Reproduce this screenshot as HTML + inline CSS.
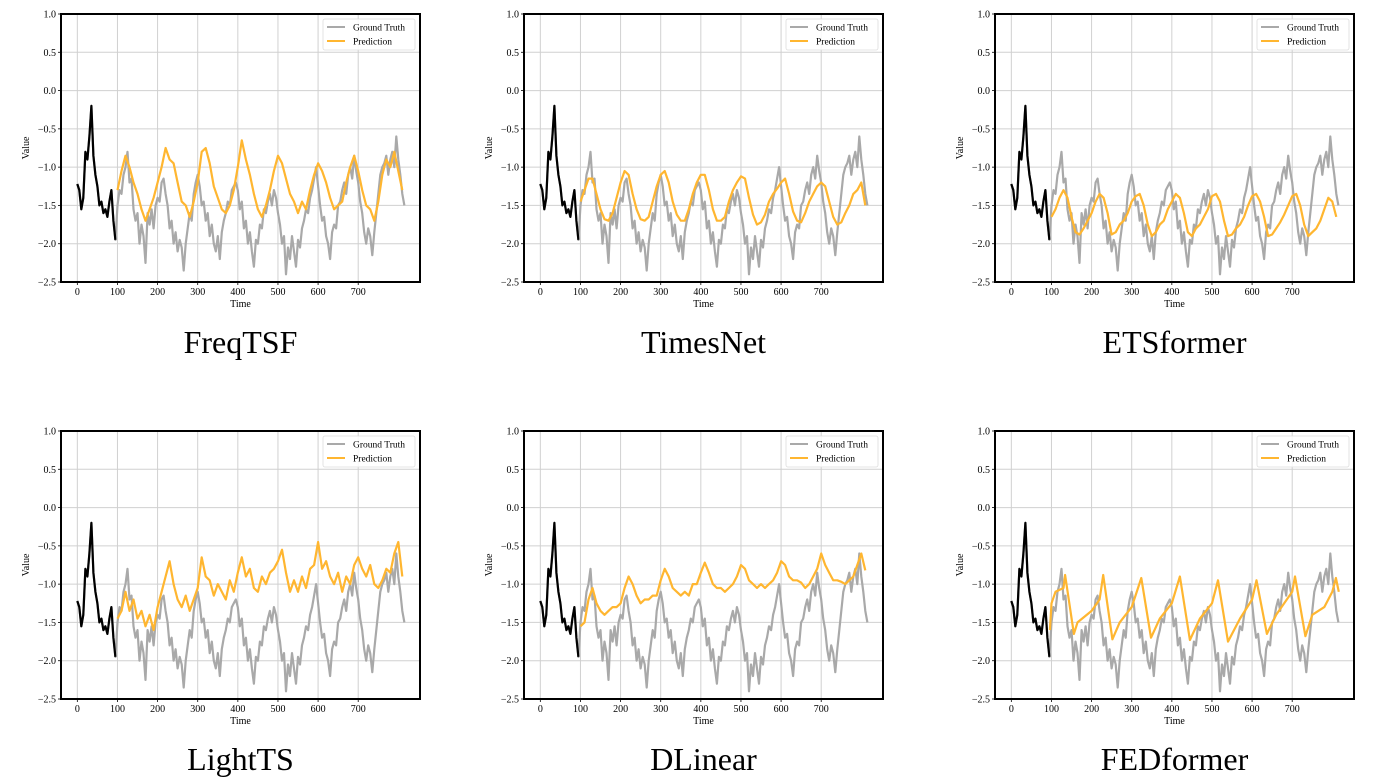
<!DOCTYPE html>
<html><head><meta charset="utf-8"><style>
html,body{margin:0;padding:0;background:#fff;}
svg{display:block;font-family:"Liberation Serif",serif;}
</style></head><body>
<svg id="fig" width="1398" height="777" viewBox="0 0 1398 777" xmlns="http://www.w3.org/2000/svg"></svg>
<script>
const gtValues = [
-1.22,-1.3,-1.55,-1.4,-0.8,-0.9,-0.6,-0.2,-0.85,-1.1,-1.25,-1.5,-1.45,-1.6,-1.55,-1.65,-1.45,-1.3,-1.7,-1.95,
-1.5,-1.3,-1.35,-1.1,-1.0,-0.8,-1.2,-1.15,-1.55,-1.7,-1.6,-2.0,-1.75,-1.9,-2.25,-1.6,-1.75,-1.55,-1.8,-1.5,
-1.4,-1.45,-1.2,-1.15,-1.35,-1.5,-1.8,-1.7,-2.0,-1.85,-2.1,-1.95,-2.05,-2.35,-2.0,-1.8,-1.6,-1.7,-1.35,-1.2,
-1.1,-1.25,-1.5,-1.45,-1.7,-1.6,-1.9,-1.75,-2.0,-2.1,-1.9,-2.2,-1.85,-1.7,-1.6,-1.45,-1.5,-1.3,-1.25,-1.2,
-1.3,-1.55,-1.45,-1.8,-1.7,-2.0,-1.85,-2.1,-2.3,-1.95,-2.0,-1.75,-1.8,-1.55,-1.6,-1.45,-1.35,-1.5,-1.3,-1.4,
-1.6,-1.75,-2.0,-1.9,-2.4,-2.05,-2.2,-1.9,-2.1,-2.3,-1.95,-2.05,-1.8,-1.7,-1.55,-1.6,-1.4,-1.3,-1.15,-1.0,
-1.25,-1.5,-1.7,-1.65,-1.9,-2.0,-2.2,-1.85,-1.75,-1.8,-1.5,-1.45,-1.3,-1.2,-1.35,-1.1,-1.0,-1.15,-0.85,-1.05,
-1.2,-1.45,-1.6,-1.85,-2.0,-1.8,-1.9,-2.15,-1.85,-1.6,-1.35,-1.1,-1.0,-0.95,-0.85,-1.1,-0.9,-0.8,-1.0,-0.6,
-0.9,-1.1,-1.35,-1.5];
const gtStep = 5;
const inputCount = 20;
const predStart = 100;
const predStep = 10;
const freqtsfValues = [
-1.3,-1.05,-0.85,-1.0,-1.2,-1.35,-1.55,-1.7,-1.55,-1.4,
-1.2,-1.0,-0.75,-0.9,-0.95,-1.2,-1.45,-1.5,-1.65,-1.45,
-1.2,-0.8,-0.75,-0.95,-1.25,-1.4,-1.55,-1.6,-1.5,-1.3,
-1.0,-0.65,-0.9,-1.1,-1.35,-1.55,-1.65,-1.5,-1.3,-1.05,
-0.85,-0.95,-1.15,-1.35,-1.45,-1.6,-1.45,-1.55,-1.3,-1.1,
-0.95,-1.05,-1.2,-1.4,-1.55,-1.5,-1.45,-1.2,-1.0,-0.85,
-1.05,-1.3,-1.5,-1.55,-1.7,-1.45,-1.1,-0.9,-1.0,-0.8,
-1.05,-1.3];
const timesnetValues = [
-1.45,-1.3,-1.15,-1.15,-1.35,-1.55,-1.68,-1.7,-1.6,-1.4,
-1.2,-1.05,-1.1,-1.35,-1.55,-1.68,-1.7,-1.65,-1.45,-1.25,
-1.1,-1.05,-1.2,-1.45,-1.62,-1.7,-1.7,-1.55,-1.35,-1.2,
-1.1,-1.1,-1.3,-1.55,-1.7,-1.7,-1.65,-1.45,-1.3,-1.2,
-1.12,-1.15,-1.4,-1.62,-1.75,-1.72,-1.62,-1.45,-1.35,-1.28,
-1.2,-1.15,-1.35,-1.58,-1.7,-1.72,-1.6,-1.45,-1.35,-1.25,
-1.2,-1.25,-1.45,-1.65,-1.75,-1.72,-1.6,-1.5,-1.35,-1.3,
-1.2,-1.5];
const etsformerValues = [
-1.65,-1.55,-1.4,-1.3,-1.4,-1.65,-1.85,-1.88,-1.8,-1.7,
-1.6,-1.45,-1.35,-1.4,-1.6,-1.88,-1.85,-1.75,-1.7,-1.6,
-1.45,-1.38,-1.35,-1.5,-1.75,-1.9,-1.85,-1.75,-1.7,-1.55,
-1.45,-1.35,-1.4,-1.6,-1.85,-1.9,-1.8,-1.75,-1.65,-1.55,
-1.38,-1.35,-1.45,-1.7,-1.9,-1.88,-1.8,-1.75,-1.65,-1.5,
-1.38,-1.35,-1.45,-1.65,-1.9,-1.88,-1.8,-1.72,-1.62,-1.5,
-1.38,-1.35,-1.5,-1.75,-1.9,-1.85,-1.8,-1.7,-1.55,-1.4,
-1.45,-1.65];
const lighttsValues = [
-1.45,-1.35,-1.1,-1.35,-1.2,-1.45,-1.35,-1.55,-1.4,-1.6,
-1.3,-1.1,-0.9,-0.7,-1.0,-1.2,-1.3,-1.15,-1.35,-1.2,
-1.05,-0.65,-0.9,-0.95,-1.15,-1.0,-1.1,-1.2,-0.95,-1.1,
-0.85,-0.65,-0.9,-0.8,-1.05,-1.1,-0.9,-1.0,-0.85,-0.8,
-0.7,-0.55,-0.85,-1.1,-0.95,-1.1,-0.9,-1.05,-0.8,-0.75,
-0.45,-0.8,-0.7,-0.9,-1.0,-0.85,-1.1,-0.9,-1.0,-0.75,
-0.65,-0.8,-0.9,-0.75,-1.0,-1.05,-0.95,-0.8,-0.85,-0.6,
-0.45,-0.9];
const dlinearValues = [
-1.55,-1.5,-1.2,-1.05,-1.25,-1.35,-1.4,-1.35,-1.3,-1.3,
-1.25,-1.05,-0.9,-1.0,-1.15,-1.25,-1.2,-1.2,-1.15,-1.15,
-0.95,-0.8,-0.9,-1.05,-1.1,-1.15,-1.1,-1.15,-1.0,-1.0,
-0.85,-0.72,-0.85,-1.0,-1.05,-1.05,-1.1,-1.05,-1.0,-0.9,
-0.75,-0.8,-0.95,-1.0,-1.05,-1.0,-1.05,-1.0,-0.95,-0.85,
-0.7,-0.75,-0.9,-0.95,-0.95,-0.98,-1.05,-1.0,-0.9,-0.8,
-0.6,-0.75,-0.85,-0.95,-0.95,-0.97,-1.0,-0.95,-0.9,-0.75,
-0.6,-0.82];
const fedformerTimes = [96,100,110,130,134,156,165,200,220,229,252,270,300,324,348,370,400,420,445,470,500,515,540,570,600,611,637,660,700,707,733,750,780,800,809,816];
const fedformerValues = [-1.6,-1.25,-1.1,-1.05,-0.88,-1.65,-1.5,-1.35,-1.2,-0.88,-1.72,-1.5,-1.3,-0.92,-1.7,-1.45,-1.25,-0.9,-1.73,-1.45,-1.25,-0.95,-1.75,-1.45,-1.2,-0.95,-1.65,-1.4,-1.1,-0.9,-1.68,-1.4,-1.3,-1.1,-0.92,-1.1];
const xTickLabels = [0,100,200,300,400,500,600,700];
const yTickLabels = [1.0,0.5,0.0,-0.5,-1.0,-1.5,-2.0,-2.5];

const NS = "http://www.w3.org/2000/svg";
const svg = document.getElementById('fig');
const W = 359, H = 268, XMIN = -40.7, XMAX = 854, YMIN = -2.5, YMAX = 1.0;
function mk(tag, attrs, parent){const e=document.createElementNS(NS,tag);for(const k in attrs)e.setAttribute(k,attrs[k]);parent.appendChild(e);return e;}
function fmt(v){return (v<0?"\u2212":"")+Math.abs(v).toFixed(1);}
function stepTimes(n,start,step){const a=[];for(let i=0;i<n;i++)a.push(start+i*step);return a;}

function panel(left, top, title, key, pTimes, pValues){
  const g = mk('g',{},svg);
  
  
  const xs = t => left + (t-XMIN)/(XMAX-XMIN)*W;
  const ys = v => top + (YMAX-v)/(YMAX-YMIN)*H;
  xTickLabels.forEach(t=>{
    const l=mk('line',{x1:xs(t),x2:xs(t),y1:top,y2:top+H,stroke:'#d0d0d0','stroke-width':1},g);
    
    
    mk('line',{x1:xs(t),x2:xs(t),y1:top+H,y2:top+H+3,stroke:'#000','stroke-width':0.8},g);
    const tx=mk('text',{x:xs(t),y:top+H+13,'font-size':10,'text-anchor':'middle',fill:'#000'},g);
    tx.textContent=t;
    
    
  });
  yTickLabels.forEach(v=>{
    const l=mk('line',{x1:left,x2:left+W,y1:ys(v),y2:ys(v),stroke:'#d0d0d0','stroke-width':1},g);
    
    
    mk('line',{x1:left-3,x2:left,y1:ys(v),y2:ys(v),stroke:'#000','stroke-width':0.8},g);
    const tx=mk('text',{x:left-5,y:ys(v)+3.5,'font-size':10,'text-anchor':'end',fill:'#000'},g);
    tx.textContent=fmt(v);
    
    
  });
  const gtT = stepTimes(gtValues.length,0,gtStep);
  const pts=(T,V)=>T.map((t,i)=>xs(t).toFixed(1)+','+ys(V[i]).toFixed(1)).join(' ');
  const gt=mk('polyline',{points:pts(gtT,gtValues),fill:'none',stroke:'#a9a9a9','stroke-width':2.2,'stroke-linejoin':'round'},g);
  
  
  const inp=mk('polyline',{points:pts(gtT.slice(0,inputCount),gtValues.slice(0,inputCount)),fill:'none',stroke:'#000','stroke-width':2.2,'stroke-linejoin':'round'},g);
  
  
  const pr=mk('polyline',{points:pts(pTimes,pValues),fill:'none',stroke:'#ffb630','stroke-width':2.2,'stroke-linejoin':'round'},g);
  
  
  const box=mk('rect',{x:left,y:top,width:W,height:H,fill:'none',stroke:'#000','stroke-width':2},g);
  
  
  const lg=mk('g',{},g);
  
  
  const lx=left+W-97, ly=top+5;
  mk('rect',{x:lx,y:ly,width:92,height:31,fill:'#fff','fill-opacity':0.85,stroke:'#ddd','stroke-width':0.8,rx:2},lg);
  mk('line',{x1:lx+4,x2:lx+22,y1:ly+8,y2:ly+8,stroke:'#a9a9a9','stroke-width':2},lg);
  mk('line',{x1:lx+4,x2:lx+22,y1:ly+22,y2:ly+22,stroke:'#ffb630','stroke-width':2},lg);
  const t1=mk('text',{x:lx+30,y:ly+11.5,'font-size':9.5,fill:'#000'},lg);t1.textContent='Ground Truth';
  
  
  const t2=mk('text',{x:lx+30,y:ly+25.5,'font-size':9.5,fill:'#000'},lg);t2.textContent='Prediction';
  
  
  const xl=mk('text',{x:left+W/2,y:top+H+25,'font-size':10,'text-anchor':'middle'},g);xl.textContent='Time';
  
  
  const yl=mk('text',{x:0,y:0,'font-size':10,'text-anchor':'middle',transform:`translate(${left-32},${top+H/2}) rotate(-90)`},g);yl.textContent='Value';
  
  
  const tt=mk('text',{x:left+W/2,y:top+H+71,'font-size':32,'text-anchor':'middle'},g);tt.textContent=title;
  
  
}
const pT = stepTimes(72,predStart,predStep);
panel(61,14,'FreqTSF','freqtsf',pT,freqtsfValues);
panel(524,14,'TimesNet','timesnet',pT,timesnetValues);
panel(995,14,'ETSformer','etsformer',pT,etsformerValues);
panel(61,431,'LightTS','lightts',pT,lighttsValues);
panel(524,431,'DLinear','dlinear',pT,dlinearValues);
panel(995,431,'FEDformer','fedformer',fedformerTimes,fedformerValues);
</script>
</body></html>
